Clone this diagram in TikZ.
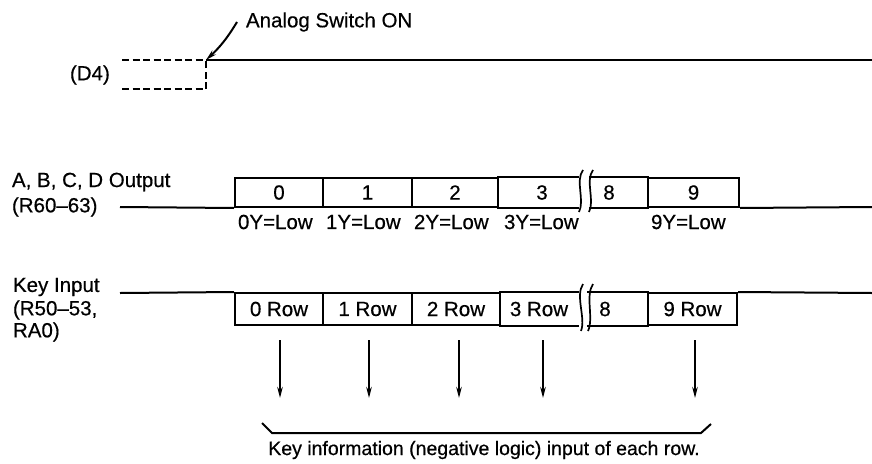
\documentclass[tikz,border=0pt]{standalone}
\usepackage{fontspec}
\setmainfont{Liberation Sans}[UprightFeatures={FakeBold=0.5}]
\usetikzlibrary{arrows.meta}
\begin{document}
\begin{tikzpicture}[x=1pt,y=-1pt,line width=2pt,
  txt/.style={inner sep=0pt,font=\fontsize{20.5}{24}\selectfont},
  lbl/.style={txt,anchor=west},
  boxr/.style={txt,draw,rectangle,minimum height=29pt},
  boxk/.style={txt,draw,rectangle,minimum height=32pt},
  openr/.style={txt,rectangle,minimum height=29pt},
  openk/.style={txt,rectangle,minimum height=32pt},
  dsh/.style={dash pattern=on 7pt off 3.5pt},
  brk/.style={line width=1.7pt},
  arr/.style={-{Stealth[length=11pt,width=5.5pt]}}
]
\useasboundingbox[fill=white] (0,0) rectangle (872,463);

% ---- D4 ----
\node[lbl] (d4) at (69,75) {(D4)};
\coordinate (dtl) at (122,60);
\coordinate (dbl) at (122,89);
\coordinate (dtr) at (206,60);
\coordinate (dbr) at (206,89);
\coordinate (dend) at (872,60);
\draw[dsh] (dtl) -- (dtr);
\draw[dsh] (dbl) -- (dbr) -- (dtr);
\draw (dtr) -- (dend);
\node[lbl] (asw) at (245,22) {Analog Switch ON};
\coordinate (aswt) at (237,22);
\draw[arr] (aswt) to[bend left=8] (dtr);

% ---- A,B,C,D Output ----
\node[lbl] (abcd) at (11,182) {A, B, C, D Output};
\node[lbl] (r60) at (11,207) {(R60--63)};
\node[boxr,minimum width=88pt] (o0) at (279,192.5) {0};
\node[boxr,minimum width=89pt] (o1) at (367.5,192.5) {1};
\node[boxr,minimum width=86pt] (o2) at (455,192.5) {2};
\node[openr,minimum width=80pt] (o3) at (538,192.5) {\hspace*{8pt}3};
\node[openr,minimum width=58pt] (o8) at (619,192.5) {8\hspace*{20pt}};
\node[boxr,minimum width=91pt] (o9) at (693.5,192.5) {9};
\draw (o3.north west) -- (o3.north east);
\draw (o3.south west) -- (o3.south east);
\draw (o8.north west) -- (o8.north east);
\draw (o8.south west) -- (o8.south east);
\draw[brk] (583,170) .. controls (575,181) and (585,200) .. (579,212);
\draw[brk] (593,170) .. controls (585,181) and (595,200) .. (589,212);
\coordinate (ol) at (120,207);
\coordinate (or) at (872,207);
\draw (ol) -- (o0.south west);
\draw (o9.south east) -- (or);
\node[lbl] (y0) at (237,222) {0Y=Low};
\node[lbl] (y1) at (325,222) {1Y=Low};
\node[lbl] (y2) at (413,222) {2Y=Low};
\node[lbl] (y3) at (503,222) {3Y=Low};
\node[lbl] (y9) at (650,222) {9Y=Low};

% ---- Key Input ----
\node[lbl] (ki) at (12,287) {Key Input};
\node[lbl] (r50) at (12,310) {(R50--53,};
\node[lbl] (ra0) at (12,332) {RA0)};
\node[boxk,minimum width=88pt] (k0) at (279,309) {0 Row};
\node[boxk,minimum width=89pt] (k1) at (367.5,309) {1 Row};
\node[boxk,minimum width=88pt] (k2) at (456,309) {2 Row};
\node[openk,minimum width=78pt] (k3) at (539,309) {3 Row};
\node[openk,minimum width=60pt] (k8) at (618,309) {8\hspace*{26pt}};
\node[boxk,minimum width=89pt] (k9) at (692.5,309) {9 Row};
\draw (k3.north west) -- (k3.north east);
\draw (k3.south west) -- (k3.south east);
\draw (k8.north west) -- (k8.north east);
\draw (k8.south west) -- (k8.south east);
\draw[brk] (583,284) .. controls (575,296) and (586,318) .. (581,331);
\draw[brk] (593,284) .. controls (585,296) and (594,318) .. (588,331);
\coordinate (kl) at (120,293);
\coordinate (kr) at (872,293);
\draw (kl) -- (k0.north west);
\draw (k9.north east) -- (kr);

% ---- arrows ----
\foreach \n/\x in {0/280,1/369,2/459,3/543,9/695}{
  \coordinate (s\n) at (\x,340);
  \coordinate (e\n) at (\x,398);
  \draw[arr] (s\n) -- (e\n);
}

% ---- brace ----
\coordinate (b1) at (262,423);
\coordinate (b2) at (272,433);
\coordinate (b3) at (701,433);
\coordinate (b4) at (711,424);
\draw (b1) -- (b2) -- (b3) -- (b4);
\node[txt,font=\fontsize{19.5}{23}\selectfont] (cap) at (484,450) {Key information (negative logic) input of each row.};
\end{tikzpicture}
\end{document}
